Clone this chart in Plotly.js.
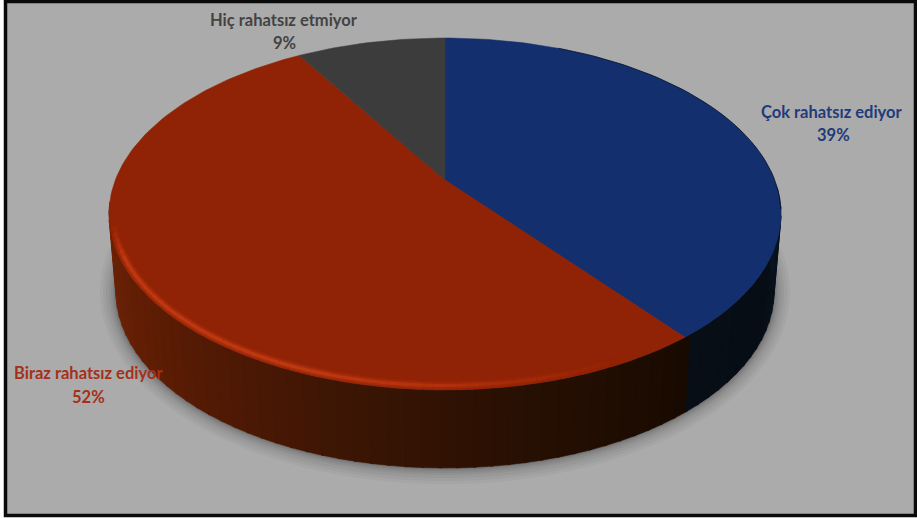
<!DOCTYPE html>
<html>
<head>
<meta charset="utf-8">
<script src="https://cdn.plot.ly/plotly-3.0.1.min.js"></script>
<style>html,body{margin:0;padding:0;background:#fff}#chart{width:917px;height:518px}</style>
</head>
<body>
<div id="chart"></div>
<script>
// Data (clockwise from 12 o'clock)
const categories = ["Çok rahatsız ediyor", "Biraz rahatsız ediyor", "Hiç rahatsız etmiyor"];
const shares = [39, 52, 9];
const topColors = ["#132f6e", "#902205", "#3c3c3c"];
const labelColors = ["#1f3b7c", "#a5301a", "#434343"];
const nameAnchors = [[832, 112], [88, 373], [284, 20]];
const percentAnchors = [[833, 135], [88, 397], [284, 43]];

// Perspective geometry of the disc, in axis units (the axes span the page)
const W = 917, H = 518;
const apex = [445, 180];                // projected pie centre
const rimTop = {cx: 445, cy: 214, rx: 336, ry: 176};
const rimBottom = {cx: 445, cy: 292, rx: 329, ry: 176};
const persp = {k: 0.193, a: 312.5, b: 169.4};

function rimPointForAngle(theta) {
  const u = Math.sin(theta), v = Math.cos(theta), w = 1 + persp.k * v;
  const dx = persp.a * u / w, dy = -persp.b * v / w;
  const ox = (apex[0] - rimTop.cx) / rimTop.rx, oy = (apex[1] - rimTop.cy) / rimTop.ry;
  const ax = dx / rimTop.rx, ay = dy / rimTop.ry;
  const A = ax * ax + ay * ay, B = 2 * (ox * ax + oy * ay), C = ox * ox + oy * oy - 1;
  const t = (-B + Math.sqrt(B * B - 4 * A * C)) / (2 * A);
  return [apex[0] + dx * t, apex[1] + dy * t];
}
function lerp(a, b, t) { return a + (b - a) * t; }
function mix(stops, t) {
  const n = stops.length - 1, i = Math.min(n - 1, Math.floor(t * n)), f = t * n - i;
  const c = [0, 1, 2].map(j => Math.round(lerp(stops[i][j], stops[i + 1][j], f)));
  return `rgb(${c[0]},${c[1]},${c[2]})`;
}
const traces = [];
const skip = {hoverinfo: "skip", showlegend: false, type: "scatter", cliponaxis: false};

// soft shadow: concentric translucent ellipses behind the disc
[[16, 0.05], [13, 0.05], [10, 0.06], [7, 0.07], [5, 0.08], [3, 0.1], [1.5, 0.14]].forEach(([g, o]) => {
  const xs = [], ys = [];
  for (let d = 0; d <= 360; d += 3) {
    const p = d * Math.PI / 180;
    xs.push(rimBottom.cx + (rimBottom.rx + g) * Math.cos(p));
    ys.push(rimBottom.cy + (rimBottom.ry + g) * Math.sin(p));
  }
  traces.push({...skip, x: xs, y: ys, mode: "none", fill: "toself", fillcolor: `rgba(50,50,50,${o})`});
});

// side wall: bands along the visible lower arc
const bounds = [];
let acc = 0;
shares.forEach(s => { acc += s; bounds.push(acc / 100 * 2 * Math.PI); });
const corner = rimPointForAngle(bounds[0]);
const split = Math.atan2((corner[1] - rimTop.cy) / rimTop.ry, (corner[0] - rimTop.cx) / rimTop.rx) * 180 / Math.PI;
const redWall = [[112, 36, 8], [92, 28, 4], [64, 22, 4], [40, 16, 3], [24, 10, 1]];
const blueWall = [[7, 14, 22], [6, 13, 20], [10, 20, 32]];
const step = 3;
for (let d = 184; d > -6; d -= step) {
  const d2 = d - step - 0.4;
  const pts = [d, d2].map(v => v * Math.PI / 180);
  const x = [], y = [];
  pts.forEach(p => { x.push(rimTop.cx + rimTop.rx * Math.cos(p)); y.push(rimTop.cy + rimTop.ry * Math.sin(p)); });
  [pts[1], pts[0]].forEach(p => { x.push(rimBottom.cx + rimBottom.rx * Math.cos(p)); y.push(rimBottom.cy + rimBottom.ry * Math.sin(p)); });
  x.push(x[0]); y.push(y[0]);
  const isRed = d > split;
  const color = isRed
    ? mix(redWall, Math.min(1, Math.max(0, (184 - d) / (184 - split))))
    : mix(blueWall, Math.min(1, Math.max(0, (split - d) / (split + 6))));
  traces.push({...skip, x, y, mode: "lines", fill: "toself", fillcolor: color, line: {color, width: 0.6}});
}

// top surface: one wedge per category
shares.forEach((s, i) => {
  const start = i === 0 ? 0 : bounds[i - 1], end = bounds[i];
  const x = [apex[0]], y = [apex[1]];
  const n = Math.max(8, Math.round(s * 3));
  for (let j = 0; j <= n; j++) {
    const p = rimPointForAngle(lerp(start, end, j / n));
    x.push(p[0]); y.push(p[1]);
  }
  x.push(apex[0]); y.push(apex[1]);
  traces.push({...skip, name: categories[i], x, y, mode: "lines", fill: "toself",
    fillcolor: topColors[i], line: {color: topColors[i], width: 0.5}});
});

// bevel highlight along the red front rim: soft glow fading at both ends
const rimSteps = 60;
[[9, 0.16], [6, 0.25], [3, 0.5]].forEach(([lw, alpha]) => {
  for (let j = 0; j < rimSteps; j++) {
    const a = lerp(178, 58, j / rimSteps) * Math.PI / 180, b = lerp(178, 58, (j + 1) / rimSteps) * Math.PI / 180;
    const ins = 4.5;
    const xs = [a, b].map(p => rimTop.cx + (rimTop.rx - ins) * Math.cos(p));
    const ys = [a, b].map(p => rimTop.cy + (rimTop.ry - ins) * Math.sin(p));
    const t = j / rimSteps;
    const fade = Math.min(1, t / 0.1) * (t < 0.55 ? 1 : 1 - (t - 0.55) / 0.45);
    traces.push({...skip, x: xs, y: ys, mode: "lines", line: {color: `rgba(214,66,22,${alpha * fade})`, width: lw}});
  }
});

// thin dark edge on the back-right of the blue wedge
{
  const xs = [], ys = [];
  for (let d = 25; d <= 100; d += 2) {
    const p = rimPointForAngle(d * Math.PI / 180);
    xs.push(p[0]); ys.push(p[1]);
  }
  traces.push({...skip, x: xs, y: ys, mode: "lines", line: {color: "rgba(8,14,30,0.7)", width: 1}});
}

const labelFont = i => ({family: "Lato, 'Open Sans', sans-serif", size: 16.5, color: labelColors[i]});
const annotations = [];
categories.forEach((c, i) => {
  annotations.push({x: nameAnchors[i][0], y: nameAnchors[i][1], xref: "x", yref: "y",
    text: `<b>${c}</b>`, showarrow: false, font: labelFont(i)});
  annotations.push({x: percentAnchors[i][0], y: percentAnchors[i][1], xref: "x", yref: "y",
    text: `<b>${shares[i]}%</b>`, showarrow: false, font: labelFont(i)});
});

Plotly.newPlot("chart", traces, {
  width: W, height: H,
  margin: {l: 0, r: 0, t: 0, b: 0},
  paper_bgcolor: "#ffffff", plot_bgcolor: "#ffffff",
  xaxis: {range: [0, W], visible: false, fixedrange: true},
  yaxis: {range: [H, 0], visible: false, fixedrange: true},
  showlegend: false, annotations,
  shapes: [
    {type: "rect", xref: "x", yref: "y", x0: 5.5, x1: 915.5, y0: 1.5, y1: 515.5,
     line: {width: 0}, fillcolor: "#ababab", layer: "below"},
    {type: "rect", xref: "x", yref: "y", x0: 5.5, x1: 915.5, y0: 1.5, y1: 515.5,
     line: {color: "#0a0a0a", width: 3.5}, fillcolor: "rgba(0,0,0,0)", layer: "above"}
  ]
}, {displayModeBar: false, staticPlot: true});
</script>
</body>
</html>
